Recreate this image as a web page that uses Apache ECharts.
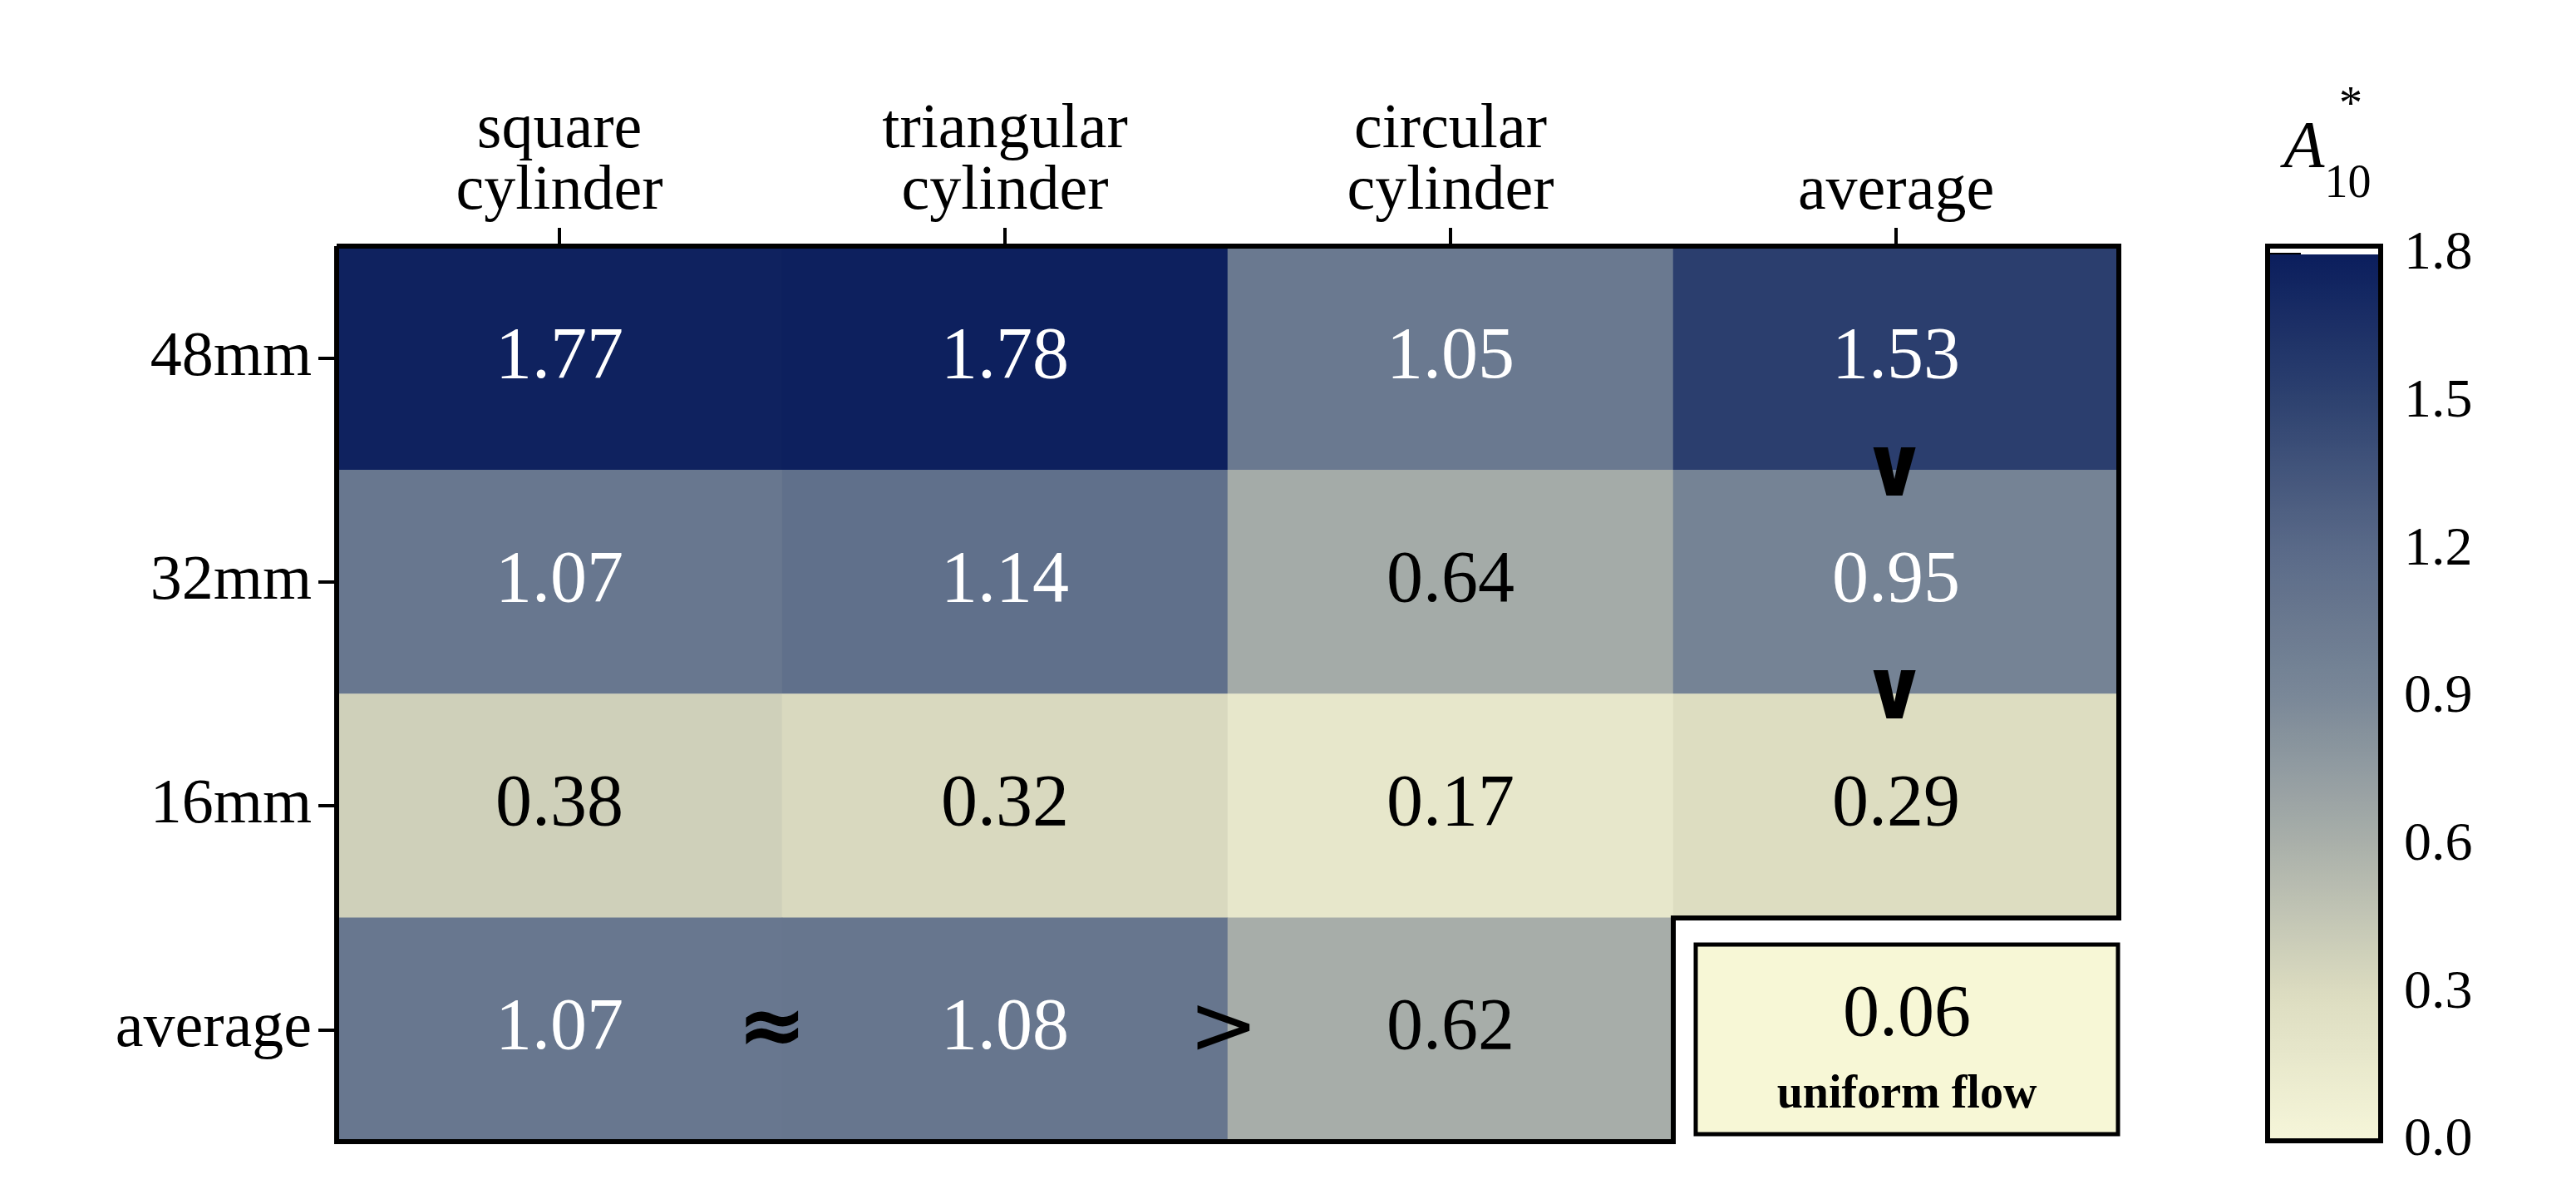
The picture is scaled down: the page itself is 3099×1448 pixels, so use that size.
<!DOCTYPE html>
<html><head><meta charset="utf-8">
<script src="https://cdn.jsdelivr.net/npm/echarts@6/dist/echarts.min.js"></script>
<style>body{margin:0;background:#fff}#c{width:3099px;height:1448px}</style>
</head><body><div id="c"></div>
<script>
const columns = ['square\ncylinder', 'triangular\ncylinder', 'circular\ncylinder', 'average'];
const rows = ['48mm', '32mm', '16mm', 'average'];
// values[row][col], null = empty cell
const values = [
  [1.77, 1.78, 1.05, 1.53],
  [1.07, 1.14, 0.64, 0.95],
  [0.38, 0.32, 0.17, 0.29],
  [1.07, 1.08, 0.62, null]
];
const uniformFlow = 0.06;
const barTicks = [0, 0.3, 0.6, 0.9, 1.2, 1.5, 1.8];
const palette = ['#f6f6d9', '#dcdcc0', '#aab0aa', '#7a8898', '#5a6a88', '#2e4270', '#0b1e5d'];

const data = [];
values.forEach((r, i) => r.forEach((v, j) => { if (v !== null) data.push([j, i, v]); }));

const font = 'Liberation Serif';
const chart = echarts.init(document.getElementById('c'));
chart.setOption({
  backgroundColor: '#fff',
  textStyle: { fontFamily: font },
  grid: [
    { left: 405, top: 296, width: 2144, height: 1077 },
    { left: 2728, top: 306, width: 136, height: 1066 }
  ],
  xAxis: [
    { type: 'category', data: columns, position: 'top', gridIndex: 0,
      axisLine: { show: false }, splitLine: { show: false },
      axisTick: { show: true, alignWithLabel: true, length: 22, lineStyle: { color: '#000', width: 4 } },
      axisLabel: { color: '#000', fontSize: 76, lineHeight: 74, fontFamily: font, margin: 28 } },
    { type: 'value', gridIndex: 1, show: false, min: 0, max: 1 }
  ],
  yAxis: [
    { type: 'category', data: rows, inverse: true, gridIndex: 0,
      axisLine: { show: false }, splitLine: { show: false },
      axisTick: { show: true, alignWithLabel: true, length: 22, lineStyle: { color: '#000', width: 4 } },
      axisLabel: { color: '#000', fontSize: 76, fontFamily: font, margin: 30 } },
    { type: 'value', gridIndex: 1, position: 'right', min: 0, max: 1.8, interval: 0.3,
      axisLine: { show: false }, splitLine: { show: false },
      axisTick: { show: true, length: 40, inside: false, lineStyle: { color: '#000', width: 4 } },
      axisLabel: { color: '#000', fontSize: 66, fontFamily: font, margin: 28, formatter: v => v.toFixed(1) } }
  ],
  visualMap: {
    type: 'continuous', min: 0, max: 1.8, calculable: false, seriesIndex: 0,
    left: 2728, top: 306, itemWidth: 136, itemHeight: 1066, padding: 0, text: null, showLabel: false,
    inRange: { color: palette }
  },
  series: [
    { type: 'heatmap', xAxisIndex: 0, yAxisIndex: 0, data: data,
      label: { show: true, fontSize: 88, fontFamily: font,
        formatter: p => p.value[2].toFixed(2),
        color: '#fff', rich: {} },
      labelLayout: null },
    { type: 'scatter', xAxisIndex: 1, yAxisIndex: 1, data: [], silent: true }
  ],
  graphic: [
    { type: 'polyline', shape: { points: [[405,296],[2549,296],[2549,1104],[2013,1104],[2013,1373],[405,1373],[405,296]] },
      style: { stroke: '#000', lineWidth: 6, fill: null }, z: 100 },
    { type: 'rect', shape: { x: 2728, y: 296, width: 136, height: 1076 }, style: { stroke: '#000', lineWidth: 6, fill: null }, z: 100 },
    { type: 'rect', shape: { x: 2040, y: 1136, width: 508, height: 228 }, style: { stroke: '#000', lineWidth: 5, fill: '#f7f7d6' }, z: 100 },
    { type: 'text', x: 2294, y: 1222, style: { text: uniformFlow.toFixed(2), font: '88px "Liberation Serif"', fill: '#000', align: 'center', verticalAlign: 'middle' }, z: 101 },
    { type: 'text', x: 2294, y: 1318, style: { text: 'uniform flow', font: 'bold 56px "Liberation Serif"', fill: '#000', align: 'center', verticalAlign: 'middle' }, z: 101 },
    { type: 'text', x: 929, y: 1241, style: { text: '≈', font: 'bold 100px "DejaVu Sans"', fill: '#000', align: 'center', verticalAlign: 'middle' }, z: 101 },
    { type: 'text', x: 1472, y: 1241, style: { text: '>', font: '100px "DejaVu Sans"', fill: '#000', align: 'center', verticalAlign: 'middle' }, z: 101 },
    { type: 'text', x: 2279, y: 570, style: { text: '∨', font: 'bold 100px "DejaVu Sans"', fill: '#000', align: 'center', verticalAlign: 'middle' }, z: 101 },
    { type: 'text', x: 2279, y: 838, style: { text: '∨', font: 'bold 100px "DejaVu Sans"', fill: '#000', align: 'center', verticalAlign: 'middle' }, z: 101 },
    { type: 'text', x: 2800, y: 180, style: { rich: { a: { font: 'italic 80px "Liberation Serif"', fill: '#000' }, s: { font: '56px "Liberation Serif"', fill: '#000', verticalAlign: 'bottom', padding: [0,0,-30,0] } },
      text: '{a|A}{s|10}', align: 'center', verticalAlign: 'middle' }, z: 101 },
    { type: 'text', x: 2828, y: 128, style: { text: '*', font: '56px "Liberation Serif"', fill: '#000', align: 'center', verticalAlign: 'middle' }, z: 101 }
  ]
});
// dark label colour for light cells
chart.setOption({ series: [{ label: { formatter: p => p.value[2].toFixed(2) } }, {}] });
const opt = chart.getOption();
opt.series[0].data = data.map(d => ({ value: d, label: { color: d[2] < 0.9 ? '#000' : '#fff' } }));
chart.setOption({ series: [{ data: opt.series[0].data }, {}] });
</script></body></html>
